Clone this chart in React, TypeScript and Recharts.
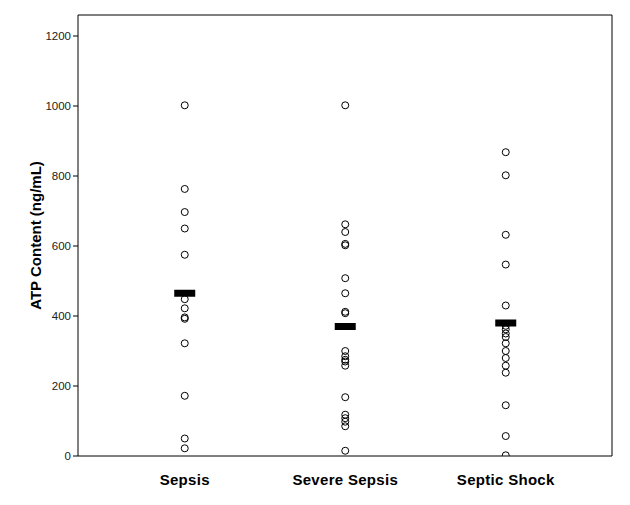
import { ScatterChart, Scatter, XAxis, YAxis, ReferenceLine, Label } from 'recharts'

const categories = ['Sepsis', 'Severe Sepsis', 'Septic Shock']
const sepsisValues = [1002, 763, 697, 650, 575, 448, 422, 396, 392, 322, 172, 50, 22]
const severeSepsisValues = [1002, 662, 640, 606, 602, 508, 465, 412, 408, 300, 285, 275, 270, 258, 168, 118, 108, 98, 85, 15]
const septicShockValues = [868, 802, 632, 547, 430, 372, 362, 350, 340, 322, 300, 280, 258, 238, 145, 57, 2]
const groupMeans = [465, 370, 380]
const yTicks = [0, 200, 400, 600, 800, 1000, 1200]

const FONT = '"Liberation Sans", Arial, sans-serif'
const X_MIN = 0.335
const X_MAX = 3.662
const Y_MAX = 1260

const points = [sepsisValues, severeSepsisValues, septicShockValues].flatMap((vals, i) =>
  vals.map(v => ({ x: i + 1, y: v }))
)
const means = groupMeans.map((m, i) => ({ x: i + 1, y: m }))

const Ring = (p: any) => <circle cx={p.cx} cy={p.cy} r={3.5} fill="none" stroke="#000" strokeWidth={1} />
const MeanBar = (p: any) => <rect x={p.cx - 10.5} y={p.cy - 3.5} width={21} height={7} fill="#000" />

const YLabel = (p: any) => {
  const vb = p.viewBox
  const cy = vb.y + vb.height / 2
  return (
    <text x={35} y={cy} transform={`rotate(-90 35 ${cy})`} textAnchor="middle" dominantBaseline="central"
      style={{ fontFamily: FONT, fontWeight: 700, fontSize: 15, fill: '#000' }}>
      ATP Content (ng/mL)
    </text>
  )
}

export default function App() {
  return (
    <div style={{ position: 'absolute', left: 0, top: 0, background: '#fff' }}>
      <ScatterChart width={630} height={505} margin={{ top: 15, right: 18, left: 0, bottom: 0 }}>
        <XAxis type="number" dataKey="x" domain={[X_MIN, X_MAX]} ticks={[1, 2, 3]} allowDataOverflow
          tickFormatter={v => categories[v - 1] ?? ''} tickLine={false} height={49} tickMargin={12}
          stroke="#000" tick={{ fontFamily: FONT, fontWeight: 700, fontSize: 15, fill: '#000', letterSpacing: 0.3 }} />
        <YAxis type="number" dataKey="y" domain={[0, Y_MAX]} ticks={yTicks} width={78} allowDataOverflow
          tickSize={5} tickMargin={2} stroke="#000" tick={{ fontFamily: FONT, fontSize: 11.5, fill: '#222' }}>
          <Label content={YLabel} />
        </YAxis>
        <ReferenceLine y={Y_MAX} stroke="#000" />
        <ReferenceLine x={X_MAX} stroke="#000" />
        <Scatter data={points} shape={Ring} isAnimationActive={false} />
        <Scatter data={means} shape={MeanBar} isAnimationActive={false} />
      </ScatterChart>
    </div>
  )
}
